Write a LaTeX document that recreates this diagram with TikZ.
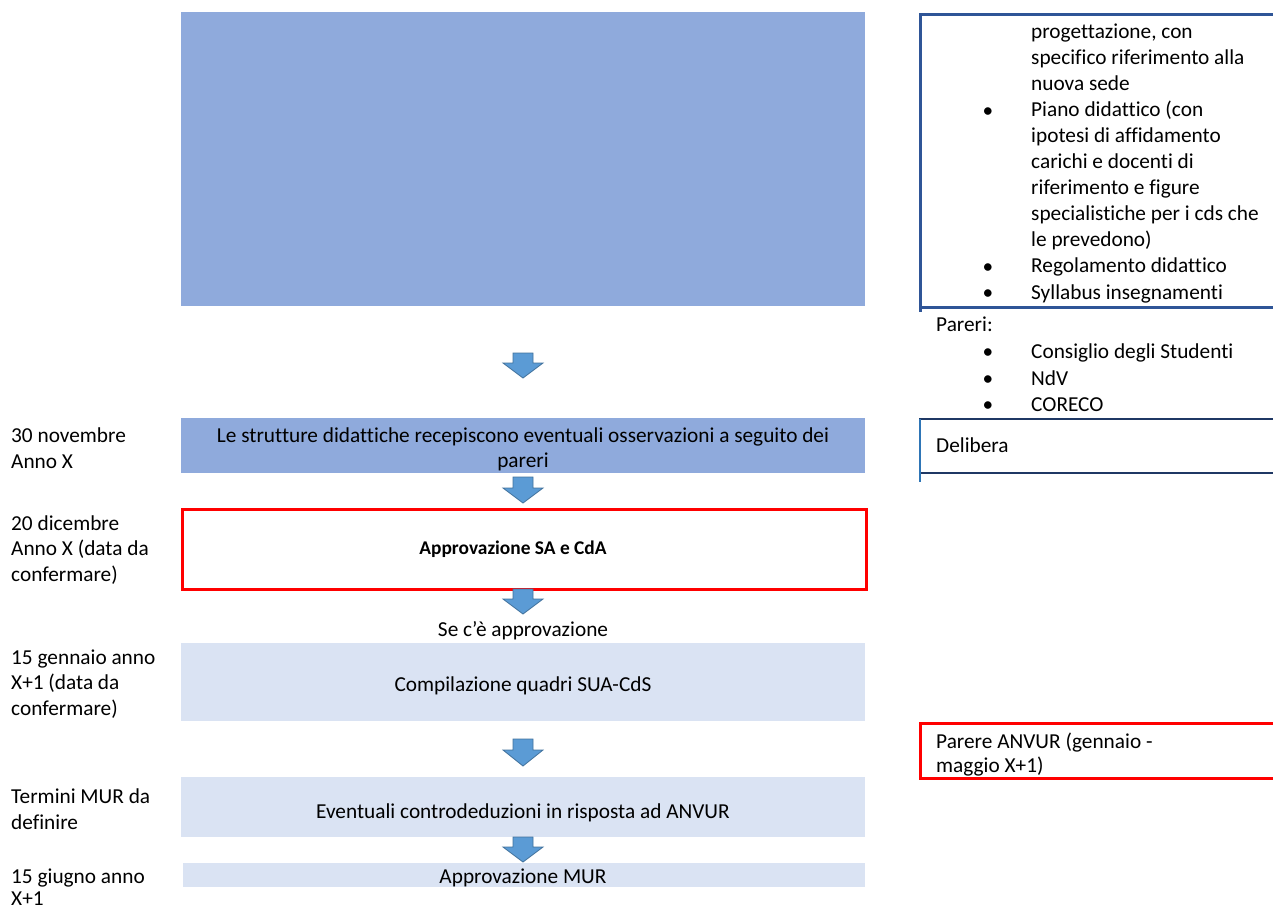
\documentclass[tikz,border=0pt]{standalone}
\usepackage{fontspec}
\setmainfont[Ligatures=NoCommon]{Carlito}
\definecolor{midblue}{HTML}{8FAADC}
\definecolor{lightblue}{HTML}{DAE3F3}
\definecolor{arrowblue}{HTML}{5B9BD5}
\definecolor{arrowedge}{HTML}{41719C}
\definecolor{panelblue}{HTML}{2F5597}
\definecolor{navy}{HTML}{1F3864}
\definecolor{edgeblue}{HTML}{2E75B6}
\definecolor{pureRed}{HTML}{FF0000}
\newcommand\blockarr[4]{%
  \draw[blockarrow] (#1-10,#2) -- (#1+10,#2) -- (#1+10,#3) -- (#1+20,#3) -- (#1,#4) -- (#1-20,#3) -- (#1-10,#3) -- cycle;}
\begin{document}
\begin{tikzpicture}[x=1pt,y=-1pt,font=\fontsize{21.3}{26.1}\selectfont,
  boxmid/.style={fill=midblue,draw=none,inner sep=0,anchor=north west},
  boxlight/.style={fill=lightblue,draw=none,inner sep=0,anchor=north west},
  boxred/.style={fill=white,draw=pureRed,line width=3pt,inner sep=0,anchor=north west},
  txt/.style={inner sep=0,anchor=base west,align=left},
  ctr/.style={inner sep=0,anchor=base},
  bul/.style={inner sep=0,anchor=base},
  blockarrow/.style={fill=arrowblue,draw=arrowedge,line width=0.8pt}]
\useasboundingbox (0,0) rectangle (1273,906);

% main column boxes
\node[boxmid,minimum width=684,minimum height=294] (b1) at (181,12) {};
\node[boxmid,minimum width=684,minimum height=55] (b2) at (181,418) {};
\node[boxred,minimum width=684,minimum height=80] (b3) at (181,508) {};
\node[boxlight,minimum width=684,minimum height=78] (b4) at (181,643) {};
\node[boxlight,minimum width=684,minimum height=60] (b5) at (181,777) {};
\node[boxlight,minimum width=682,minimum height=24] (b6) at (183,863) {};

% texts in boxes
\node[ctr] (t2a) at (523,442) {Le strutture didattiche recepiscono eventuali osservazioni a seguito dei};
\node[ctr] (t2b) at (523,467) {pareri};
\node[ctr,font=\fontsize{19.4}{26.1}\selectfont\bfseries] (t3) at (513,554) {Approvazione SA e CdA};
\node[ctr] (t4) at (523,691) {Compilazione quadri SUA-CdS};
\node[ctr] (t5) at (523,818) {Eventuali controdeduzioni in risposta ad ANVUR};
\node[ctr] (t6) at (523,883) {Approvazione MUR};

% block arrows
\blockarr{523}{353}{363}{378}
\blockarr{523}{477}{488}{503}
\blockarr{523}{589}{599}{614}
\node[ctr] (se) at (523,636) {Se c’è approvazione};
\blockarr{523}{739}{750}{766}
\blockarr{523}{837}{847}{862}

% left date labels (anchored at the baseline of their last line)
\begin{scope}[font=\fontsize{21.3}{25.5}\selectfont]
\node[txt] (d1) at (11,468) {30 novembre\\Anno X};
\node[txt] (d2) at (11,581) {20 dicembre\\Anno X (data da\\confermare)};
\node[txt] (d3) at (11,715) {15 gennaio anno\\X+1 (data da\\confermare)};
\node[txt] (d4) at (11,829) {Termini MUR da\\definire};
\node[txt,font=\fontsize{21.3}{22}\selectfont] (d5) at (11,905) {15 giugno anno\\X+1};
\end{scope}

% right panel 1
\draw[panelblue,line width=3pt] (1273,14) -- (920,14) -- (920,307) -- (1273,307);
\draw[panelblue,line width=3pt] (920,307) -- (920,312);
\node[txt] (r1) at (1031,299) {progettazione, con\\specifico riferimento alla\\nuova sede\\Piano didattico (con\\ipotesi di affidamento\\carichi e docenti di\\riferimento e figure\\specialistiche per i cds che\\le prevedono)\\Regolamento didattico\\Syllabus insegnamenti};
\node[bul] (bu1) at (988,117) {\textbullet};
\node[bul] (bu2) at (988,273) {\textbullet};
\node[bul] (bu3) at (988,299) {\textbullet};

% pareri
\node[txt] (p0) at (936,331) {Pareri:};
\node[bul] (bu4) at (988,358) {\textbullet};
\node[txt] (p1) at (1031,358) {Consiglio degli Studenti};
\node[bul] (bu5) at (988,385) {\textbullet};
\node[txt] (p2) at (1031,385) {NdV};
\node[bul] (bu6) at (988,411) {\textbullet};
\node[txt] (p3) at (1031,411) {CORECO};

% delibera
\draw[navy,line width=2pt] (1273,419) -- (920,419) -- (920,473) -- (1273,473);
\draw[edgeblue,line width=2pt] (920,419) -- (920,482);
\node[txt] (del) at (936,452) {Delibera};

% parere ANVUR
\draw[pureRed,line width=3pt] (1273,723) -- (920,723) -- (920,778) -- (1273,778);
\node[txt,font=\fontsize{21.3}{24}\selectfont] (anv) at (936,772) {Parere ANVUR (gennaio -\\maggio X+1)};
\end{tikzpicture}
\end{document}
